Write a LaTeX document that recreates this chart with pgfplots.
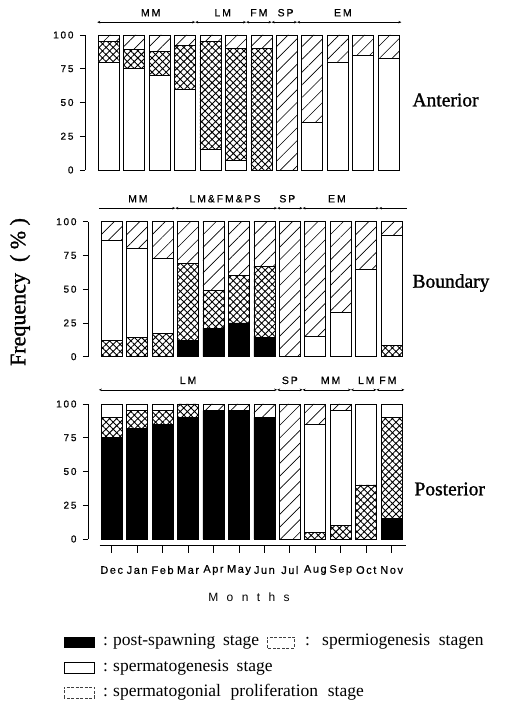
\documentclass[border=0pt]{standalone}
\usepackage{fontspec}
\setmainfont{Liberation Serif}
\newfontfamily\titlef[FakeBold=1.2]{Liberation Serif}
\newfontfamily\ticksf[LetterSpace=18,FakeBold=0.6]{Liberation Sans}
\newfontfamily\monthsf[LetterSpace=14,FakeBold=0.6]{Liberation Sans}
\newfontfamily\segsf[LetterSpace=18,FakeBold=0.6]{Liberation Sans}
\newfontfamily\bigsp[LetterSpace=70]{Liberation Sans}
\usepackage{pgfplots}
\pgfplotsset{compat=1.18}
\usetikzlibrary{patterns.meta,arrows.meta}

\tikzset{
  seg/.style={line width=0.6pt, {Stealth[length=3pt,width=2.5pt]}-{Stealth[length=3pt,width=2.5pt]}},
  segl/.style={font=\segsf\fontsize{10.5}{10.5}\selectfont},
  mon/.style={font=\monthsf\fontsize{11}{11}\selectfont, inner sep=0pt},
}
\pgfplotsset{
  panel/.style={
    scale only axis, width=316.4pt, height=135pt,
    xmin=-0.93, xmax=11.5, ymin=0, ymax=100,
    axis y line=left, axis x line=none,
    axis line style={-, line width=0.8pt},
    ytick={0,25,50,75,100}, tick align=outside, major tick length=5pt,
    tick style={black, line width=0.8pt},
    yticklabel style={font=\ticksf\fontsize{10}{10}\selectfont, xshift=-3pt},
    /pgf/number format/assume math mode=true,
    ybar stacked, bar width=21pt, clip=false,
  },
  ps/.style={draw=black, line width=0.8pt, fill=black},
  sg/.style={draw=black, line width=0.8pt, fill=white},
  pr/.style={draw=black, line width=0.8pt, pattern={Hatch[angle=45,distance=5pt,line width=0.9pt]}},
  sm/.style={draw=black, line width=0.8pt, pattern={Lines[angle=45,distance=9pt,line width=0.65pt]}},
}

\begin{document}
\begin{tikzpicture}
\useasboundingbox (0,0) rectangle (514pt,705pt);

% ---------------- Anterior ----------------
\begin{axis}[panel, at={(85pt,535pt)}, anchor=south west]
\addplot[sg] coordinates {(0,80) (1,75) (2,70) (3,60) (4,15) (5,7) (6,0) (7,0) (8,35) (9,80) (10,85) (11,83)};
\addplot[pr] coordinates {(0,15) (1,14) (2,18) (3,32) (4,80) (5,83) (6,90) (7,0) (8,0) (9,0) (10,0) (11,0)};
\addplot[sm] coordinates {(0,5) (1,11) (2,12) (3,8) (4,5) (5,10) (6,10) (7,100) (8,65) (9,20) (10,15) (11,17)};
\draw[seg] (axis cs:-0.45,109.5) -- (axis cs:3.4,109.5);
\draw[seg] (axis cs:3.4,109.5) -- (axis cs:5.4,109.5);
\draw[seg] (axis cs:5.4,109.5) -- (axis cs:6.4,109.5);
\draw[seg] (axis cs:6.4,109.5) -- (axis cs:7.4,109.5);
\draw[seg] (axis cs:7.4,109.5) -- (axis cs:11.5,109.5);
\node[segl] at (axis cs:1.65,116.5) {MM};
\node[segl] at (axis cs:4.48,116.5) {LM};
\node[segl] at (axis cs:5.9,116.5) {FM};
\node[segl] at (axis cs:6.95,116.5) {SP};
\node[segl] at (axis cs:9.2,116.5) {EM};
\end{axis}

% ---------------- Boundary ----------------
\begin{axis}[panel, at={(88pt,348.3pt)}, anchor=south west]
\addplot[ps] coordinates {(0,0) (1,0) (2,0) (3,12) (4,21) (5,25) (6,14) (7,0) (8,0) (9,0) (10,0) (11,0)};
\addplot[pr] coordinates {(0,12) (1,14) (2,17) (3,57) (4,28) (5,35) (6,53) (7,0) (8,0) (9,0) (10,0) (11,8)};
\addplot[sg] coordinates {(0,74) (1,66) (2,56) (3,0) (4,0) (5,0) (6,0) (7,0) (8,15) (9,33) (10,65) (11,82)};
\addplot[sm] coordinates {(0,14) (1,20) (2,27) (3,31) (4,51) (5,40) (6,33) (7,100) (8,85) (9,67) (10,35) (11,10)};
\draw[line width=0.6pt, -{Stealth[length=3pt,width=2.5pt]}] (axis cs:-0.5,110) -- (axis cs:2.5,110);
\draw[seg] (axis cs:2.5,110) -- (axis cs:6.5,110);
\draw[seg] (axis cs:6.5,110) -- (axis cs:7.5,110);
\draw[seg] (axis cs:7.5,110) -- (axis cs:10.5,110);
\draw[line width=0.6pt, {Stealth[length=3pt,width=2.5pt]}-] (axis cs:10.5,110) -- (axis cs:11.6,110);
\node[segl] at (axis cs:1.03,117) {MM};
\node[segl] at (axis cs:4.45,117) {LM\&FM\&PS};
\node[segl] at (axis cs:6.9,117) {SP};
\node[segl] at (axis cs:8.85,117) {EM};
\end{axis}

% ---------------- Posterior ----------------
\begin{axis}[panel, at={(88pt,166pt)}, anchor=south west]
\addplot[ps] coordinates {(0,75) (1,82) (2,85) (3,90) (4,95) (5,95) (6,90) (7,0) (8,0) (9,0) (10,0) (11,15)};
\addplot[pr] coordinates {(0,15) (1,13) (2,10) (3,10) (4,0) (5,0) (6,0) (7,0) (8,5) (9,10) (10,40) (11,75)};
\addplot[sg] coordinates {(0,10) (1,5) (2,5) (3,0) (4,0) (5,0) (6,0) (7,0) (8,80) (9,85) (10,60) (11,10)};
\addplot[sm] coordinates {(0,0) (1,0) (2,0) (3,0) (4,5) (5,5) (6,10) (7,100) (8,15) (9,5) (10,0) (11,0)};
\draw[seg] (axis cs:-0.5,110.5) -- (axis cs:6.5,110.5);
\draw[seg] (axis cs:6.5,110.5) -- (axis cs:7.5,110.5);
\draw[seg] (axis cs:7.5,110.5) -- (axis cs:9.4,110.5);
\draw[seg] (axis cs:9.4,110.5) -- (axis cs:10.4,110.5);
\draw[seg] (axis cs:10.4,110.5) -- (axis cs:11.5,110.5);
\node[segl] at (axis cs:3.0,117.5) {LM};
\node[segl] at (axis cs:7.0,117.5) {SP};
\node[segl] at (axis cs:8.6,117.5) {MM};
\node[segl] at (axis cs:10.0,117.5) {LM};
\node[segl] at (axis cs:10.85,117.5) {FM};
% month axis
\draw[line width=0.8pt] (axis cs:-0.47,-5) -- (axis cs:11.55,-5);
\pgfplotsinvokeforeach{0,...,11}{\draw[line width=0.8pt] (axis cs:#1,-5) -- (axis cs:#1,-10.5);}
\node[mon] at (axis cs:0,-23) {Dec};
\node[mon] at (axis cs:1,-23) {Jan};
\node[mon] at (axis cs:2,-23) {Feb};
\node[mon] at (axis cs:3,-23) {Mar};
\node[mon] at (axis cs:4,-23) {Apr};
\node[mon] at (axis cs:5,-23) {May};
\node[mon] at (axis cs:6,-23) {Jun};
\node[mon] at (axis cs:7,-23) {Jul};
\node[mon] at (axis cs:8,-23) {Aug};
\node[mon] at (axis cs:9,-23) {Sep};
\node[mon] at (axis cs:10,-23) {Oct};
\node[mon] at (axis cs:11,-23) {Nov};
\end{axis}

% ---------------- labels ----------------
\node[anchor=west, font=\titlef\fontsize{19.5}{19.5}\selectfont] at (409pt,605pt) {Anterior};
\node[anchor=west, font=\titlef\fontsize{19.5}{19.5}\selectfont] at (409pt,422pt) {Boundary};
\node[anchor=west, font=\titlef\fontsize{19.5}{19.5}\selectfont] at (411pt,216pt) {Posterior};
\node[rotate=90, font=\titlef\fontsize{22}{22}\selectfont] at (20pt,413pt) {Frequency\ \ (\ \%\ )};
\node[font=\bigsp\fontsize{12}{12}\selectfont] at (249pt,108pt) {Months};

% ---------------- legend ----------------
\begin{scope}[font=\fontsize{17.5}{17.5}\selectfont]
\fill[black] (64pt,57pt) rectangle (95pt,68pt);
\node[anchor=base west, inner sep=0pt] at (103pt,59pt) {:};
\node[anchor=base west, inner sep=0pt] at (113pt,59pt) {post-spawning\hspace{0.45em}stage};
\draw[black!75, line width=0.7pt, dash pattern=on 3pt off 1.5pt] (267pt,57pt) rectangle (294pt,68pt);
\node[anchor=base west, inner sep=0pt] at (305pt,59pt) {:};
\node[anchor=base west, inner sep=0pt] at (322pt,59pt) {spermiogenesis\hspace{0.5em}stagen};
\draw[black, line width=0.8pt] (64pt,32pt) rectangle (94pt,43pt);
\node[anchor=base west, inner sep=0pt] at (103pt,34pt) {:};
\node[anchor=base west, inner sep=0pt] at (113pt,34pt) {spermatogenesis\hspace{0.45em}stage};
\draw[black!75, line width=0.7pt, dash pattern=on 3pt off 1.5pt] (64pt,7pt) rectangle (94pt,18pt);
\node[anchor=base west, inner sep=0pt] at (103pt,9pt) {:};
\node[anchor=base west, inner sep=0pt] at (113pt,9pt) {spermatogonial\hspace{0.55em}proliferation\hspace{0.55em}stage};
\end{scope}
\end{tikzpicture}
\end{document}
